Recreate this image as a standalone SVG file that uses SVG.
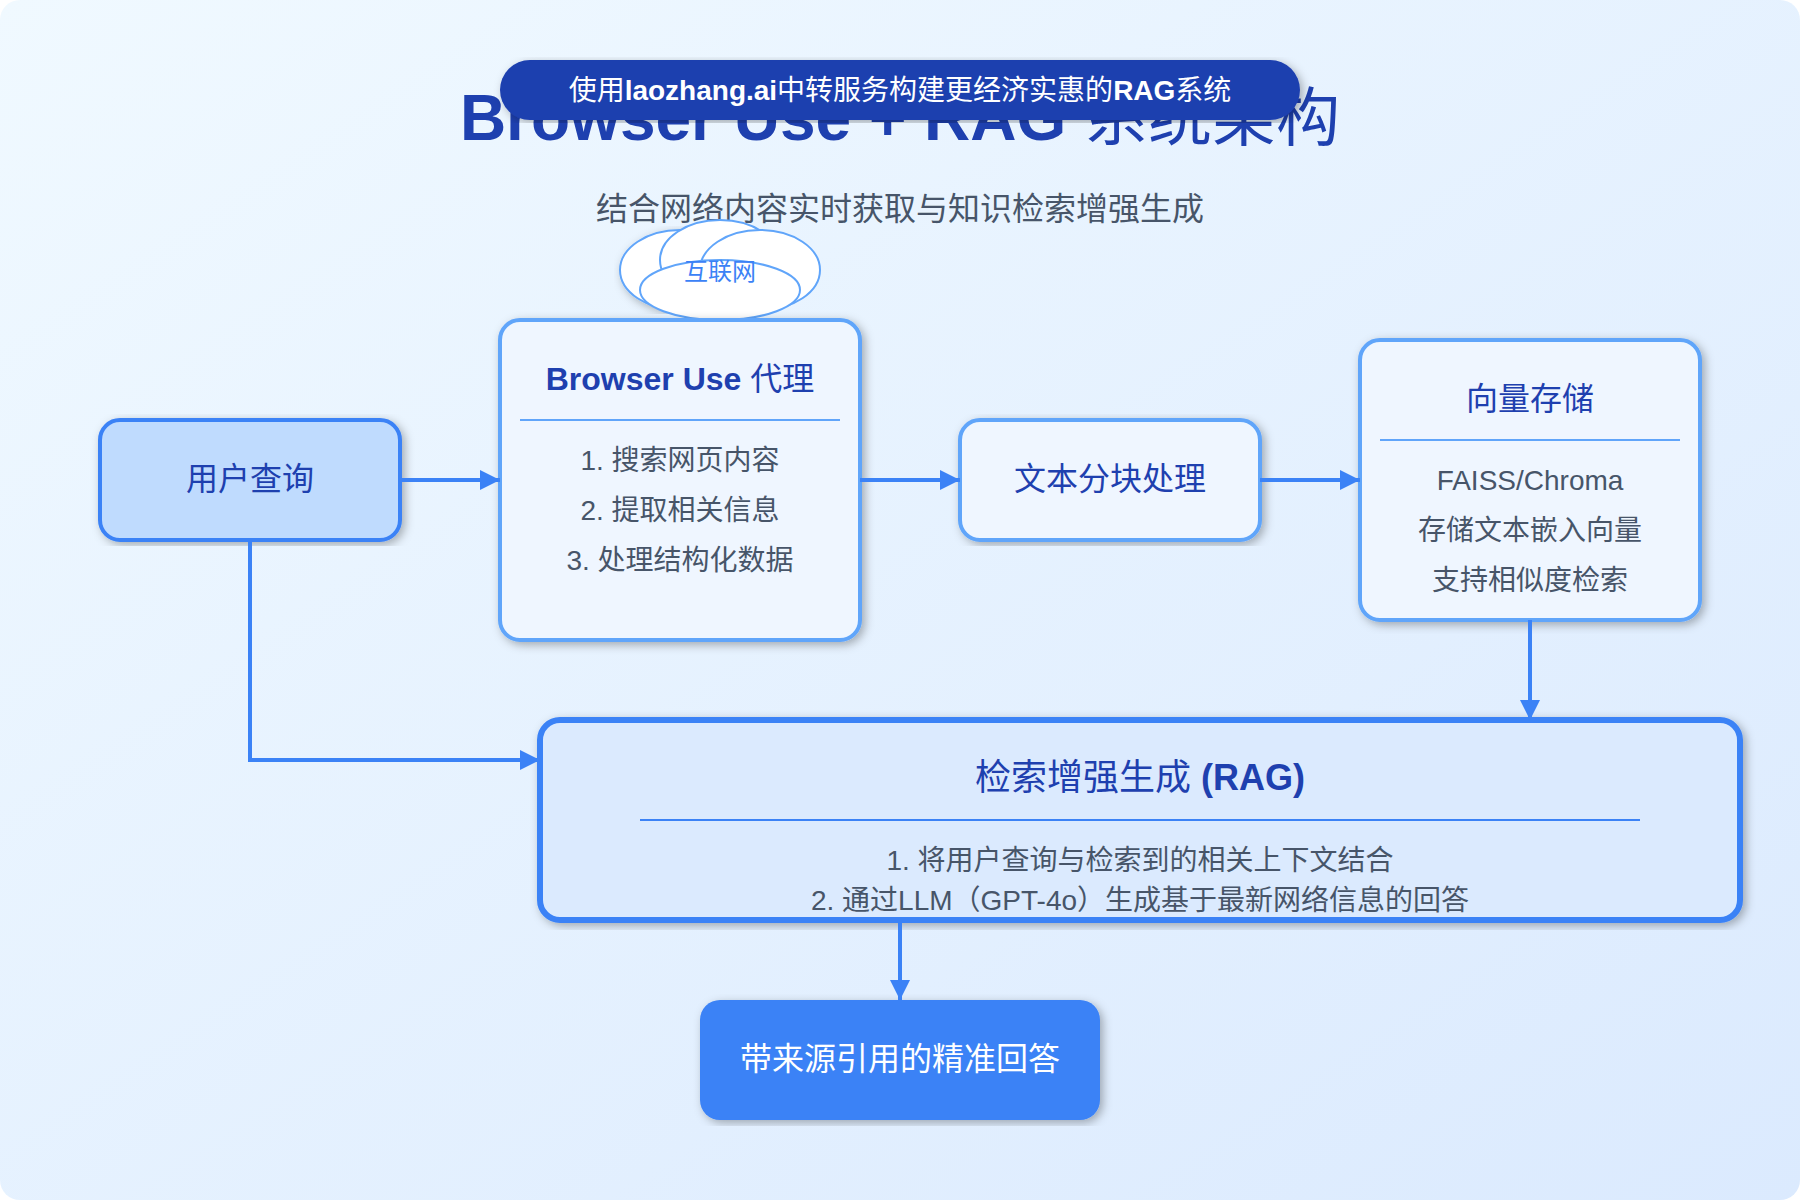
<svg xmlns="http://www.w3.org/2000/svg" width="1800" height="1200" viewBox="0 0 1800 1200">
<defs>
<linearGradient id="bg" x1="0" y1="0" x2="1" y2="1"><stop offset="0" stop-color="#f0f9ff"/><stop offset="1" stop-color="#dbeafe"/></linearGradient>
<filter id="sh" x="-5%" y="-5%" width="110%" height="110%"><feDropShadow dx="3" dy="3" stdDeviation="5" flood-color="#000" flood-opacity="0.3"/></filter>
<marker id="arrow" markerWidth="5" markerHeight="5" refX="5" refY="2.5" orient="auto"><path d="M0 0L5 2.5L0 5Z" fill="#3b82f6"/></marker>
</defs>
<style>
text{font-family:"Liberation Sans","Noto Sans CJK SC",sans-serif;text-anchor:middle}
.b{font-weight:700}
.title{font-size:64px;fill:#1e40af}
.sub{font-size:32px;fill:#475569}
.h{font-size:32px;fill:#1e40af}
.h2{font-size:36px;fill:#1e40af}
.t{font-size:28px;fill:#475569}
.w{font-size:32px;fill:#fff}
.pill{font-size:28px;fill:#fff}
.soft{fill:#eff6ff;stroke:#60a5fa;stroke-width:4}
.cloud ellipse{fill:#fff;stroke:#60a5fa;stroke-width:2}
.conn{fill:none;stroke:#3b82f6;stroke-width:4;marker-end:url(#arrow)}
</style>
<rect width="1800" height="1200" rx="20" fill="url(#bg)"/>
<g id="title"><text x="900" y="140" class="title"><tspan class="b">Browser Use + RAG</tspan> 系统架构</text></g>
<g id="banner"><rect x="500" y="60" width="800" height="60" rx="30" fill="#1e40af" filter="url(#sh)"/><text x="900" y="100" class="pill">使用<tspan class="b">laozhang.ai</tspan>中转服务构建更经济实惠的<tspan class="b">RAG</tspan>系统</text></g>
<g id="subtitle"><text x="900" y="220" class="sub">结合网络内容实时获取与知识检索增强生成</text></g>
<g id="internet" class="cloud">
<ellipse cx="680" cy="270" rx="60" ry="40" filter="url(#sh)"/>
<ellipse cx="720" cy="260" rx="60" ry="40"/>
<ellipse cx="760" cy="270" rx="60" ry="40"/>
<ellipse cx="720" cy="290" rx="80" ry="30"/>
<text x="720" y="280" font-size="24" fill="#3b82f6">互联网</text>
</g>
<g id="user"><rect x="100" y="420" width="300" height="120" rx="20" fill="#bfdbfe" stroke="#3b82f6" stroke-width="4" filter="url(#sh)"/><text x="250" y="490" class="h">用户查询</text></g>
<g id="agent"><rect x="500" y="320" width="360" height="320" rx="20" class="soft" filter="url(#sh)"/><text x="680" y="390" class="h"><tspan class="b">Browser Use</tspan> 代理</text><line x1="520" y1="420" x2="840" y2="420" stroke="#60a5fa" stroke-width="2"/><text x="680" y="470" class="t">1. 搜索网页内容</text><text x="680" y="520" class="t">2. 提取相关信息</text><text x="680" y="570" class="t">3. 处理结构化数据</text></g>
<g id="chunk"><rect x="960" y="420" width="300" height="120" rx="20" class="soft" filter="url(#sh)"/><text x="1110" y="490" class="h">文本分块处理</text></g>
<g id="vector"><rect x="1360" y="340" width="340" height="280" rx="20" class="soft" filter="url(#sh)"/><text x="1530" y="410" class="h">向量存储</text><line x1="1380" y1="440" x2="1680" y2="440" stroke="#60a5fa" stroke-width="2"/><text x="1530" y="490" class="t">FAISS/Chroma</text><text x="1530" y="540" class="t">存储文本嵌入向量</text><text x="1530" y="590" class="t">支持相似度检索</text></g>
<g id="rag"><rect x="540" y="720" width="1200" height="200" rx="20" fill="#dbeafe" stroke="#3b82f6" stroke-width="6" filter="url(#sh)"/><text x="1140" y="790" class="h2">检索增强生成 <tspan class="b">(RAG)</tspan></text><line x1="640" y1="820" x2="1640" y2="820" stroke="#3b82f6" stroke-width="2"/><text x="1140" y="870" class="t">1. 将用户查询与检索到的相关上下文结合</text><text x="1140" y="910" class="t">2. 通过LLM（GPT-4o）生成基于最新网络信息的回答</text></g>
<g id="answer"><rect x="700" y="1000" width="400" height="120" rx="20" fill="#3b82f6" filter="url(#sh)"/><text x="900" y="1070" class="w">带来源引用的精准回答</text></g>
<g id="connectors">
<path class="conn" d="M400 480H500"/>
<path class="conn" d="M860 480H960"/>
<path class="conn" d="M1260 480H1360"/>
<path class="conn" d="M1530 620V720"/>
<path class="conn" d="M250 540V760H540"/>
<path class="conn" d="M900 920V1000"/>
</g>
</svg>
